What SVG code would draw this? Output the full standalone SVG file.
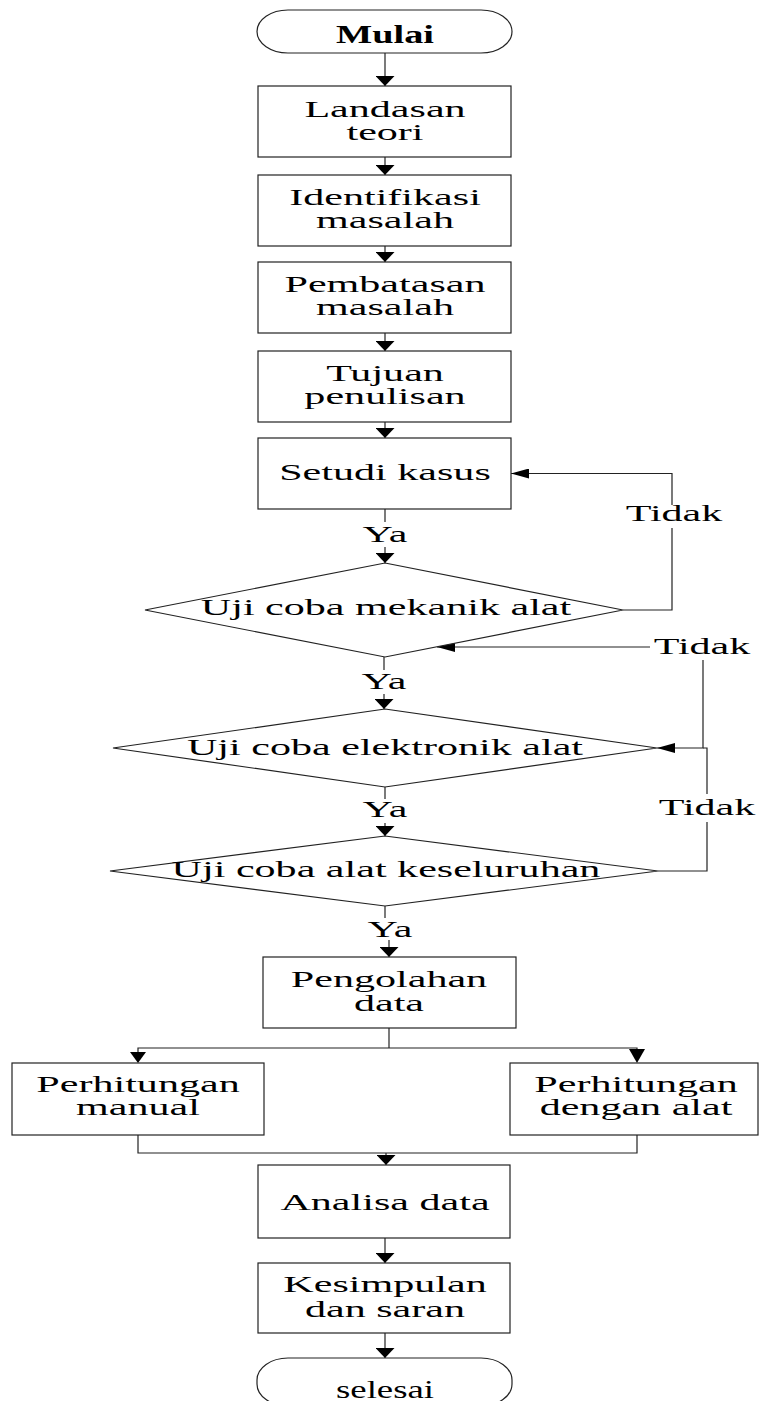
<svg xmlns="http://www.w3.org/2000/svg" width="759" height="1401" viewBox="0 0 759 1401">
<style>
.n{fill:#fff;stroke:#222;stroke-width:1.2}
.c{fill:none;stroke:#222;stroke-width:1.2}
.t{font-family:"Liberation Serif","Times New Roman",serif;font-size:23px;fill:#000;text-anchor:middle}
.b{font-weight:bold}
.k{font-size:25px}
</style>
<defs>
<marker id="av" viewBox="0 0 10 19" refX="10" refY="9.5" markerWidth="10" markerHeight="19" markerUnits="userSpaceOnUse" orient="auto"><path d="M0,0 L10,9.5 L0,19 Z" fill="#000"/></marker>
<marker id="ah" viewBox="0 0 18 10" refX="18" refY="5" markerWidth="18" markerHeight="10" markerUnits="userSpaceOnUse" orient="auto"><path d="M0,0 L18,5 L0,10 Z" fill="#000"/></marker>
</defs>
<rect width="759" height="1401" fill="#fff"/>
<g id="connectors">
<path class="c" d="M385,53 V86" marker-end="url(#av)"/>
<path class="c" d="M385,157 V175" marker-end="url(#av)"/>
<path class="c" d="M385,246 V262" marker-end="url(#av)"/>
<path class="c" d="M385,333 V351" marker-end="url(#av)"/>
<path class="c" d="M385,422 V438" marker-end="url(#av)"/>
<path class="c" d="M385,509 V522"/>
<path class="c" d="M385,547 V563" marker-end="url(#av)"/>
<path class="c" d="M623,610 H672 V528"/>
<path class="c" d="M672,505 V473.5 H511" marker-end="url(#ah)"/>
<path class="c" d="M384,657 V670"/>
<path class="c" d="M384,694 V709" marker-end="url(#av)"/>
<path class="c" d="M650,647 H437" marker-end="url(#ah)"/>
<path class="c" d="M703,660 V748 H657" marker-end="url(#ah)"/>
<path class="c" d="M703,748 H707 V794"/>
<path class="c" d="M707,822 V871 H658"/>
<path class="c" d="M385,787 V799"/>
<path class="c" d="M385,823 V836" marker-end="url(#av)"/>
<path class="c" d="M385,906 V918"/>
<path class="c" d="M389,940 V957" marker-end="url(#av)"/>
<path class="c" d="M389,1028 V1048"/>
<path class="c" d="M138,1053 V1048 H637 V1050"/>
<polygon points="130,1052 146,1052 138,1063" fill="#000"/>
<polygon points="629,1049 645,1049 637,1063" fill="#000"/>
<path class="c" d="M138,1135 V1153 H637 V1135"/>
<path class="c" d="M386,1153 V1165" marker-end="url(#av)"/>
<path class="c" d="M385,1238 V1263" marker-end="url(#av)"/>
<path class="c" d="M385,1333 V1358" marker-end="url(#av)"/>
</g>
<g id="labels">
<text class="t" transform="translate(385,542) scale(1.83,1)">Ya</text>
<text class="t" transform="translate(384,689) scale(1.83,1)">Ya</text>
<text class="t" transform="translate(385,817) scale(1.83,1)">Ya</text>
<text class="t" transform="translate(390,937) scale(1.83,1)">Ya</text>
<text class="t" transform="translate(674,521) scale(1.83,1)">Tidak</text>
<text class="t" transform="translate(702,654) scale(1.83,1)">Tidak</text>
<text class="t" transform="translate(707,815) scale(1.83,1)">Tidak</text>
</g>
<g id="mulai">
<rect class="n" x="257" y="10" width="255" height="43" rx="31" ry="21.5"/>
<text class="t b k" x="385" y="43" textLength="98" lengthAdjust="spacingAndGlyphs">Mulai</text>
</g>
<g id="landasan">
<rect class="n" x="258" y="86" width="253" height="71"/>
<text class="t" transform="translate(385,117) scale(1.83,1)">Landasan</text>
<text class="t" transform="translate(385,140) scale(1.83,1)">teori</text>
</g>
<g id="identifikasi">
<rect class="n" x="258" y="175" width="253" height="71"/>
<text class="t" transform="translate(385,205) scale(1.83,1)">Identifikasi</text>
<text class="t" transform="translate(385,228) scale(1.83,1)">masalah</text>
</g>
<g id="pembatasan">
<rect class="n" x="258" y="262" width="253" height="71"/>
<text class="t" transform="translate(385,292) scale(1.83,1)">Pembatasan</text>
<text class="t" transform="translate(385,315) scale(1.83,1)">masalah</text>
</g>
<g id="tujuan">
<rect class="n" x="258" y="351" width="253" height="71"/>
<text class="t" transform="translate(385,381) scale(1.83,1)">Tujuan</text>
<text class="t" transform="translate(385,404) scale(1.83,1)">penulisan</text>
</g>
<g id="setudi">
<rect class="n" x="258" y="438" width="253" height="71"/>
<text class="t" transform="translate(385,480) scale(1.83,1)">Setudi kasus</text>
</g>
<g id="uji-mekanik">
<polygon class="n" points="385,563 623,610 385,657 145,610"/>
<text class="t" transform="translate(386,615) scale(1.83,1)">Uji coba mekanik alat</text>
</g>
<g id="uji-elektronik">
<polygon class="n" points="385,709 657,748 385,787 113,748"/>
<text class="t" transform="translate(385,755) scale(1.83,1)">Uji coba elektronik alat</text>
</g>
<g id="uji-keseluruhan">
<polygon class="n" points="385,836 658,871 385,906 110,871"/>
<text class="t" transform="translate(386,877) scale(1.83,1)">Uji coba alat keseluruhan</text>
</g>
<g id="pengolahan">
<rect class="n" x="263" y="957" width="253" height="71"/>
<text class="t" transform="translate(389,987) scale(1.83,1)">Pengolahan</text>
<text class="t" transform="translate(389,1011) scale(1.83,1)">data</text>
</g>
<g id="manual">
<rect class="n" x="12" y="1063" width="252" height="72"/>
<text class="t" transform="translate(138,1092) scale(1.83,1)">Perhitungan</text>
<text class="t" transform="translate(138,1115) scale(1.83,1)">manual</text>
</g>
<g id="dengan-alat">
<rect class="n" x="510" y="1063" width="248" height="72"/>
<text class="t" transform="translate(636,1092) scale(1.83,1)">Perhitungan</text>
<text class="t" transform="translate(636,1115) scale(1.83,1)">dengan alat</text>
</g>
<g id="analisa">
<rect class="n" x="258" y="1165" width="252" height="73"/>
<text class="t" transform="translate(385,1210) scale(1.83,1)">Analisa data</text>
</g>
<g id="kesimpulan">
<rect class="n" x="258" y="1263" width="252" height="70"/>
<text class="t" transform="translate(385,1292) scale(1.83,1)">Kesimpulan</text>
<text class="t" transform="translate(385,1317) scale(1.83,1)">dan saran</text>
</g>
<g id="selesai">
<rect class="n" x="257" y="1358" width="255" height="48" rx="31" ry="22"/>
<text class="t k" x="385" y="1398" textLength="98" lengthAdjust="spacingAndGlyphs">selesai</text>
</g>
</svg>
